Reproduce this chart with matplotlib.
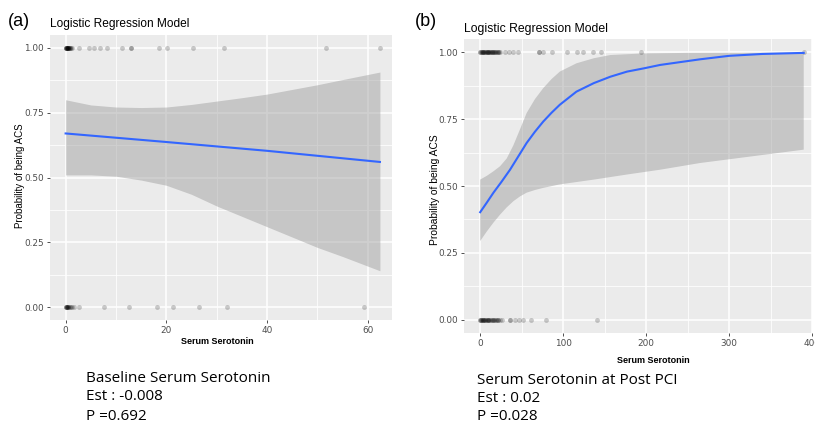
import matplotlib
matplotlib.use("Agg")
import matplotlib.pyplot as plt
from matplotlib.ticker import MultipleLocator

W, H = 815, 424

# ---- panel (a): baseline serotonin ----
a_fit_x = [0, 20, 40, 62.4]
a_fit_y = [0.670, 0.637, 0.603, 0.560]
a_band_x = [0, 5, 10, 15, 20, 25, 30, 35, 40, 45, 50, 55, 62.4]
a_band_hi = [0.800, 0.780, 0.772, 0.770, 0.772, 0.782, 0.795, 0.808, 0.822, 0.840, 0.858, 0.878, 0.907]
a_band_lo = [0.510, 0.510, 0.505, 0.490, 0.470, 0.435, 0.390, 0.350, 0.310, 0.270, 0.230, 0.195, 0.140]
a_pts_one = [0.0, 0.0, 0.1, 0.1, 0.2, 0.2, 0.3, 0.3, 0.4, 0.4, 0.5, 0.5, 0.6, 0.7, 0.8, 0.9, 1.0, 1.2,
             2.6, 4.6, 5.6, 6.9, 8.3, 11.2, 12.9, 12.9, 18.5, 20.1, 25.2, 31.5, 51.7, 62.4]
a_pts_zero = [0.0, 0.0, 0.1, 0.2, 0.3, 0.3, 0.4, 0.5, 0.6, 0.8, 1.0, 1.3, 1.6,
              2.6, 7.6, 12.5, 18.2, 21.3, 26.4, 32.0, 59.2]

# ---- panel (b): post PCI serotonin ----
b_fit_x = [0, 8, 16, 26, 36, 46, 56, 66, 76, 86, 96, 116, 137, 157, 177, 197, 217, 265, 300, 340, 390]
b_fit_y = [0.402, 0.438, 0.475, 0.517, 0.561, 0.611, 0.661, 0.703, 0.741, 0.774, 0.804, 0.853,
           0.885, 0.909, 0.928, 0.940, 0.953, 0.974, 0.987, 0.994, 0.998]
b_hi_x = [0, 8, 16, 24, 32, 40, 48, 56, 66, 76, 86, 96, 116, 137, 157, 197, 250, 390]
b_hi_y = [0.524, 0.538, 0.555, 0.574, 0.603, 0.652, 0.712, 0.773, 0.825, 0.866, 0.900, 0.928,
          0.959, 0.978, 0.990, 0.996, 0.998, 0.999]
b_lo_x = [0, 8, 16, 24, 32, 40, 48, 56, 66, 76, 96, 137, 177, 217, 265, 330, 390]
b_lo_y = [0.294, 0.330, 0.363, 0.393, 0.420, 0.443, 0.461, 0.475, 0.485, 0.493, 0.506, 0.524,
          0.543, 0.561, 0.586, 0.612, 0.636]
b_pts_one = [0, 0, 1, 2, 2, 3, 4, 4, 5, 6, 6, 7, 8, 8, 9, 10, 10, 11, 12, 12, 13, 14, 14, 15, 16,
             17, 18, 18, 19, 20, 21, 22, 23, 24, 30.1, 35.3, 40.1, 46.1,
             71.5, 71.5, 75.5, 86.3, 104.4, 116.5, 124.5, 136.6, 145.8, 194, 390]
b_pts_zero = [0, 0, 1, 1, 2, 3, 3, 4, 5, 6, 6, 7, 8, 9, 10, 10, 11, 12, 13, 14, 15, 16, 17, 18,
              19, 20, 21, 22, 24, 26, 36.1, 36.1, 42.2, 47.4, 52.2, 61.4, 79.5, 140.6]

captions_a = ["Baseline Serum Serotonin", "Est : -0.008", "P =0.692"]
captions_b = ["Serum Serotonin at Post PCI", "Est : 0.02", "P =0.028"]

BG = "#EBEBEB"
BLUE = "#3366FF"


def box(x0, y0, x1, y1):
    return [x0 / W, 1 - y1 / H, (x1 - x0) / W, (y1 - y0) / H]


def style(ax, xmajor, xminor):
    ax.set_facecolor(BG)
    for s in ax.spines.values():
        s.set_visible(False)
    ax.xaxis.set_major_locator(MultipleLocator(xmajor))
    ax.xaxis.set_minor_locator(MultipleLocator(xminor))
    ax.yaxis.set_major_locator(MultipleLocator(0.25))
    ax.yaxis.set_minor_locator(MultipleLocator(0.125))
    ax.grid(which="major", color="white", linewidth=1.1)
    ax.grid(which="minor", color="white", linewidth=0.55)
    ax.set_axisbelow(True)
    ax.tick_params(which="major", length=2.5, width=0.6, color="#333333",
                   labelsize=6.4, labelcolor="#4D4D4D", pad=2)
    ax.tick_params(which="minor", length=0)
    ax.set_ylim(-0.05, 1.05)
    ax.yaxis.set_major_formatter(plt.FuncFormatter(lambda v, p: f"{v:.2f}"))


fig = plt.figure(figsize=(W / 100, H / 100), dpi=100)
fig.patch.set_facecolor("white")

# panel a
ax = fig.add_axes(box(50, 35, 392, 320))
style(ax, 20, 10)
ax.set_xlim(-3.1, 64.8)
ax.fill_between(a_band_x, a_band_lo, a_band_hi, color="#999999", alpha=0.45, linewidth=0)
ax.plot(a_fit_x, a_fit_y, color=BLUE, linewidth=1.5)
ax.scatter(a_pts_one, [1] * len(a_pts_one), s=12, color="black", alpha=0.2, linewidths=0)
ax.scatter(a_pts_zero, [0] * len(a_pts_zero), s=12, color="black", alpha=0.2, linewidths=0)
ax.set_xticks([0, 20, 40, 60])

# panel b
bx = fig.add_axes(box(464, 39, 812, 333))
style(bx, 100, 50)
bx.set_xlim(-19.5, 400)
# ribbon polygon: upper edge then lower edge reversed
poly_x = b_hi_x + b_lo_x[::-1]
poly_y = b_hi_y + b_lo_y[::-1]
bx.fill(poly_x, poly_y, color="#999999", alpha=0.45, linewidth=0)
bx.plot(b_fit_x, b_fit_y, color=BLUE, linewidth=1.5)
bx.scatter(b_pts_one, [1] * len(b_pts_one), s=12, color="black", alpha=0.2, linewidths=0)
bx.scatter(b_pts_zero, [0] * len(b_pts_zero), s=12, color="black", alpha=0.2, linewidths=0)
bx.set_xticks([0, 100, 200, 300, 400])
bx.set_xticklabels(["0", "100", "200", "300", "400"])

# labels
lab = dict(family=["Liberation Sans", "DejaVu Sans"])
fig.text(8 / W, 1 - 21 / H, "(a)", fontsize=13, va="center", ha="left", **lab)
fig.text(415 / W, 1 - 22 / H, "(b)", fontsize=13, va="center", ha="left", **lab)
fig.text(50 / W, 1 - 27 / H, "Logistic Regression Model", fontsize=8.6, va="baseline", **lab)
fig.text(464 / W, 1 - 32 / H, "Logistic Regression Model", fontsize=8.8, va="baseline", **lab)
fig.text(20 / W, 1 - 176 / H, "Probability of being ACS", fontsize=7, rotation=90,
         va="center", ha="center", **lab)
fig.text(435 / W, 1 - 190 / H, "Probability of being ACS", fontsize=7.4, rotation=90,
         va="center", ha="center", **lab)
fig.text(217 / W, 1 - 344 / H, "Serum Serotonin", fontsize=6.5, weight="bold",
         va="baseline", ha="center", **lab)
fig.text(653 / W, 1 - 363 / H, "Serum Serotonin", fontsize=6.5, weight="bold",
         va="baseline", ha="center", **lab)

cap = dict(family=["Open Sans", "DejaVu Sans"], fontsize=11, va="baseline", ha="left")
for i, t in enumerate(captions_a):
    fig.text(86 / W, 1 - (381.5 + 19 * i) / H, t, **cap)
for i, t in enumerate(captions_b):
    fig.text(477 / W, 1 - (383.5 + 18.5 * i) / H, t, **cap)

fig.savefig("out.png", dpi=100)
